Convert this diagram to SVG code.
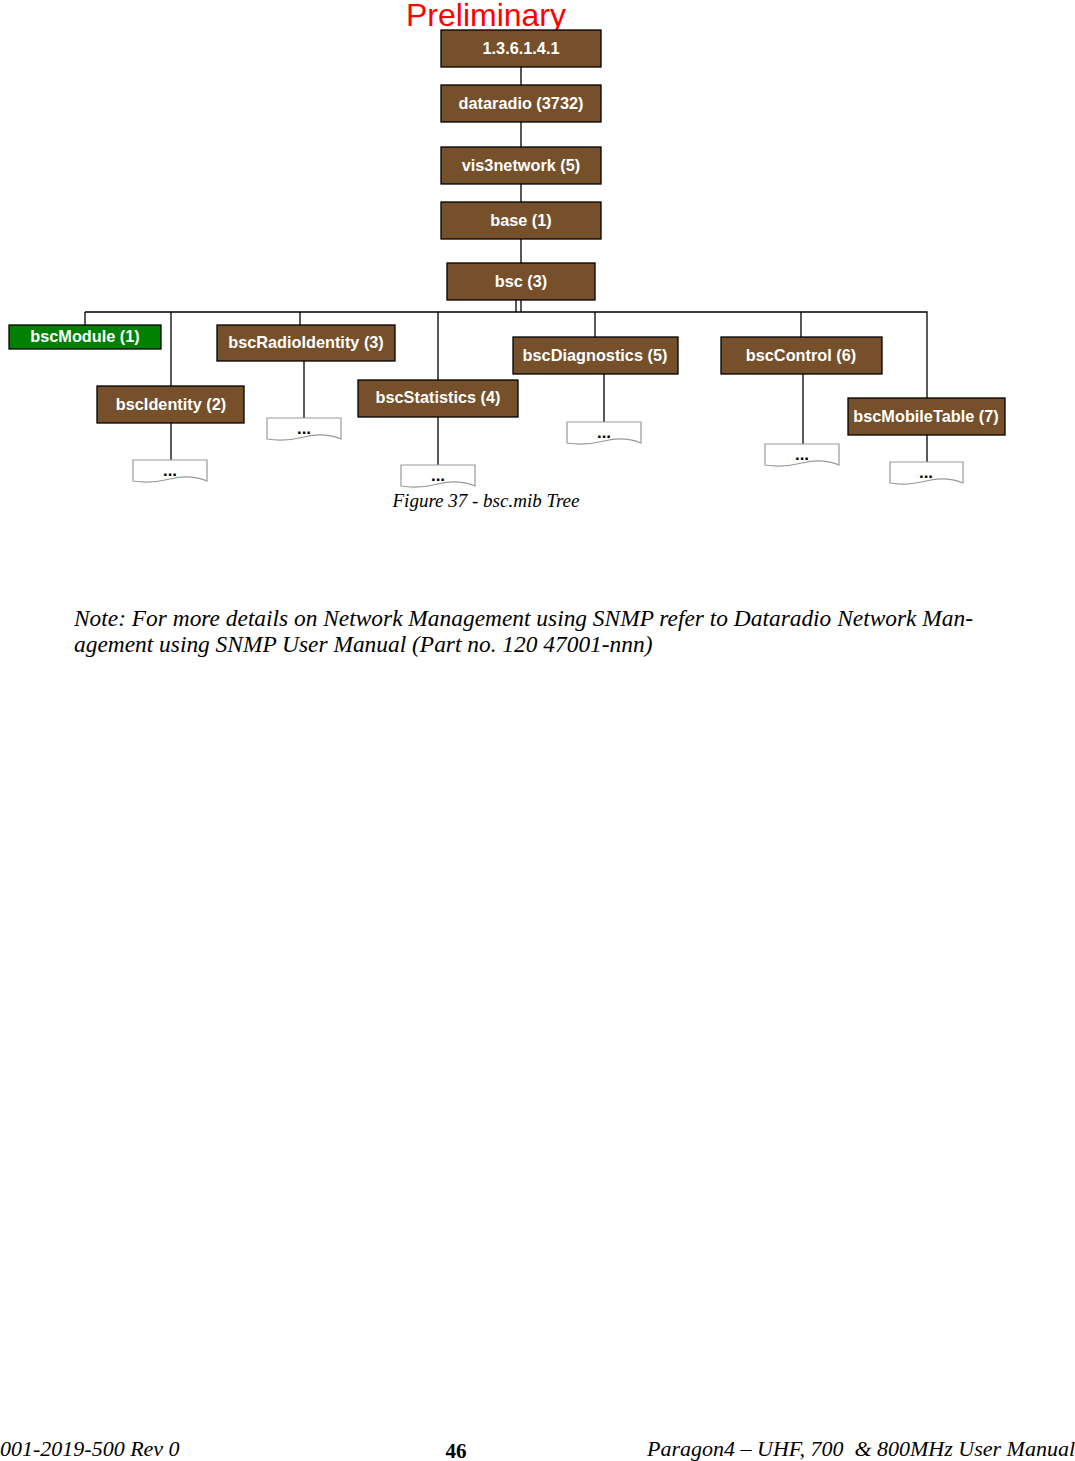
<svg xmlns="http://www.w3.org/2000/svg" width="1075" height="1461" viewBox="0 0 1075 1461">
<style>
.n{fill:#76502a;stroke:#000;stroke-width:1.3}
.t{font-family:"Liberation Sans",Arial,sans-serif;font-weight:bold;font-size:16.3px;fill:#fff;text-anchor:middle}
.d{fill:#fff;stroke:#999;stroke-width:1.2}
.dt{font-family:"Liberation Sans",Arial,sans-serif;font-weight:bold;font-size:17px;fill:#000;text-anchor:middle}
.c{stroke:#000;stroke-width:1.3;fill:none}
.s{font-family:"Liberation Serif","Times New Roman",serif;font-style:italic;fill:#000}
</style>
<rect width="1075" height="1461" fill="#fff"/>
<text x="486" y="26" font-family="Liberation Sans,Arial,sans-serif" font-size="32" fill="#ff0000" text-anchor="middle">Preliminary</text>
<g id="connectors">
<path class="c" d="M521 67V85M521 122V147M521 184V202M521 239V263M516 300V312M521 300V312M85 312H927V398M85 312V325M171 312V386M300 312V325M438 312V380M595 312V337M801 312V337M171 423V460M304 361V418M438 417V478M604 374V422M803 374V444M927 435V462"/>
</g>
<g id="n1"><rect class="n" x="441" y="30" width="160" height="37"/><text class="t" x="521" y="54">1.3.6.1.4.1</text></g>
<g id="n2"><rect class="n" x="441" y="85" width="160" height="37"/><text class="t" x="521" y="109">dataradio (3732)</text></g>
<g id="n3"><rect class="n" x="441" y="147" width="160" height="37"/><text class="t" x="521" y="171">vis3network (5)</text></g>
<g id="n4"><rect class="n" x="441" y="202" width="160" height="37"/><text class="t" x="521" y="226">base (1)</text></g>
<g id="n5"><rect class="n" x="447" y="263" width="148" height="37"/><text class="t" x="521" y="287">bsc (3)</text></g>
<g id="n6"><rect x="9" y="325" width="152" height="24" fill="#008000" stroke="#000" stroke-width="1.3"/><text class="t" x="85" y="342">bscModule (1)</text></g>
<g id="n7"><rect class="n" x="97" y="386" width="147" height="37"/><text class="t" x="171" y="410">bscIdentity (2)</text></g>
<g id="n8"><rect class="n" x="217" y="325" width="178" height="36"/><text class="t" x="306" y="348">bscRadioIdentity (3)</text></g>
<g id="n9"><rect class="n" x="358" y="380" width="160" height="37"/><text class="t" x="438" y="403">bscStatistics (4)</text></g>
<g id="n10"><rect class="n" x="513" y="337" width="165" height="37"/><text class="t" x="595" y="361">bscDiagnostics (5)</text></g>
<g id="n11"><rect class="n" x="721" y="337" width="161" height="37"/><text class="t" x="801" y="361">bscControl (6)</text></g>
<g id="n12"><rect class="n" x="848" y="398" width="157" height="37"/><text class="t" x="926" y="422">bscMobileTable (7)</text></g>
<g id="d1"><path class="d" d="M133 460H207V481Q190 474 170 479T133 481Z"/><text class="dt" x="170" y="476">...</text></g>
<g id="d2"><path class="d" d="M267 418H341V439Q324 432 304 437T267 439Z"/><text class="dt" x="304" y="434">...</text></g>
<g id="d3"><path class="d" d="M401 465H475V486Q458 479 438 484T401 486Z"/><text class="dt" x="438" y="481">...</text></g>
<g id="d4"><path class="d" d="M567 422H641V443Q624 436 604 441T567 443Z"/><text class="dt" x="604" y="438">...</text></g>
<g id="d5"><path class="d" d="M765 444H839V465Q822 458 802 463T765 465Z"/><text class="dt" x="802" y="460">...</text></g>
<g id="d6"><path class="d" d="M890 462H963V483Q946 476 926 481T890 483Z"/><text class="dt" x="926" y="478">...</text></g>
<text class="s" x="486" y="507" font-size="19" text-anchor="middle">Figure 37 - bsc.mib Tree</text>
<text class="s" x="74" y="626" font-size="23.4">Note: For more details on Network Management using SNMP refer to Dataradio Network Man-</text>
<text class="s" x="74" y="652" font-size="23.4">agement using SNMP User Manual (Part no. 120 47001-nnn)</text>
<text x="0" y="1456" font-family="Liberation Serif,serif" font-style="italic" font-size="22">001-2019-500 Rev 0</text>
<text x="456" y="1458" font-family="Liberation Serif,serif" font-weight="bold" font-size="21" text-anchor="middle">46</text>
<text x="1075" y="1456" font-family="Liberation Serif,serif" font-style="italic" font-size="22" text-anchor="end" xml:space="preserve">Paragon4 – UHF, 700  &amp; 800MHz User Manual</text>
</svg>
